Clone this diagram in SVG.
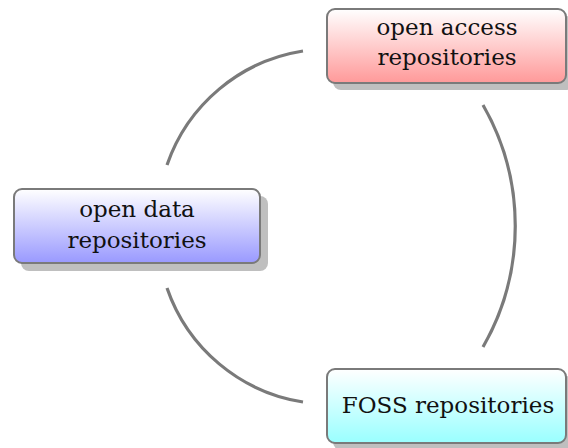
<svg xmlns="http://www.w3.org/2000/svg" width="568" height="448" viewBox="0 0 568 448">
  <style>
    .box { stroke: #7a7a7a; stroke-width: 2; }
    .shadow { fill: #bfbfbf; }
    .label { font-family: "DejaVu Serif", "Liberation Serif", serif; font-size: 23px; fill: #111; text-anchor: middle; }
    .link { fill: none; stroke: #7a7a7a; stroke-width: 3.2; stroke-linecap: butt; }
  </style>
  <defs>
    <linearGradient id="gRed" x1="0" y1="0" x2="0" y2="1">
      <stop offset="0" stop-color="#ffffff"/>
      <stop offset="1" stop-color="#ff9999"/>
    </linearGradient>
    <linearGradient id="gBlue" x1="0" y1="0" x2="0" y2="1">
      <stop offset="0" stop-color="#ffffff"/>
      <stop offset="1" stop-color="#9999ff"/>
    </linearGradient>
    <linearGradient id="gCyan" x1="0" y1="0" x2="0" y2="1">
      <stop offset="0" stop-color="#ffffff"/>
      <stop offset="1" stop-color="#99ffff"/>
    </linearGradient>
  </defs>

  <!-- connecting arcs -->
  <g id="connectors">
    <path class="link" d="M 167 165 A 172 172 0 0 1 303 51"/>
    <path class="link" d="M 167 288 A 172 172 0 0 0 303 402"/>
    <path class="link" d="M 483 105 A 243 243 0 0 1 483 347"/>
  </g>

  <g id="node-open-access">
    <rect class="shadow" x="333" y="16" width="241" height="74" rx="8"/>
    <rect class="box" x="327" y="9" width="239" height="74" rx="8" fill="url(#gRed)"/>
    <text class="label" x="447" y="35">open access</text>
    <text class="label" x="447" y="65">repositories</text>
  </g>

  <g id="node-open-data">
    <rect class="shadow" x="21" y="196" width="247" height="75" rx="8"/>
    <rect class="box" x="14" y="189" width="246" height="74" rx="8" fill="url(#gBlue)"/>
    <text class="label" x="137" y="217">open data</text>
    <text class="label" x="137" y="248">repositories</text>
  </g>

  <g id="node-foss">
    <rect class="shadow" x="333" y="376" width="241" height="74" rx="8"/>
    <rect class="box" x="327" y="369" width="239" height="74" rx="8" fill="url(#gCyan)"/>
    <text class="label" x="448" y="413">FOSS repositories</text>
  </g>
</svg>
